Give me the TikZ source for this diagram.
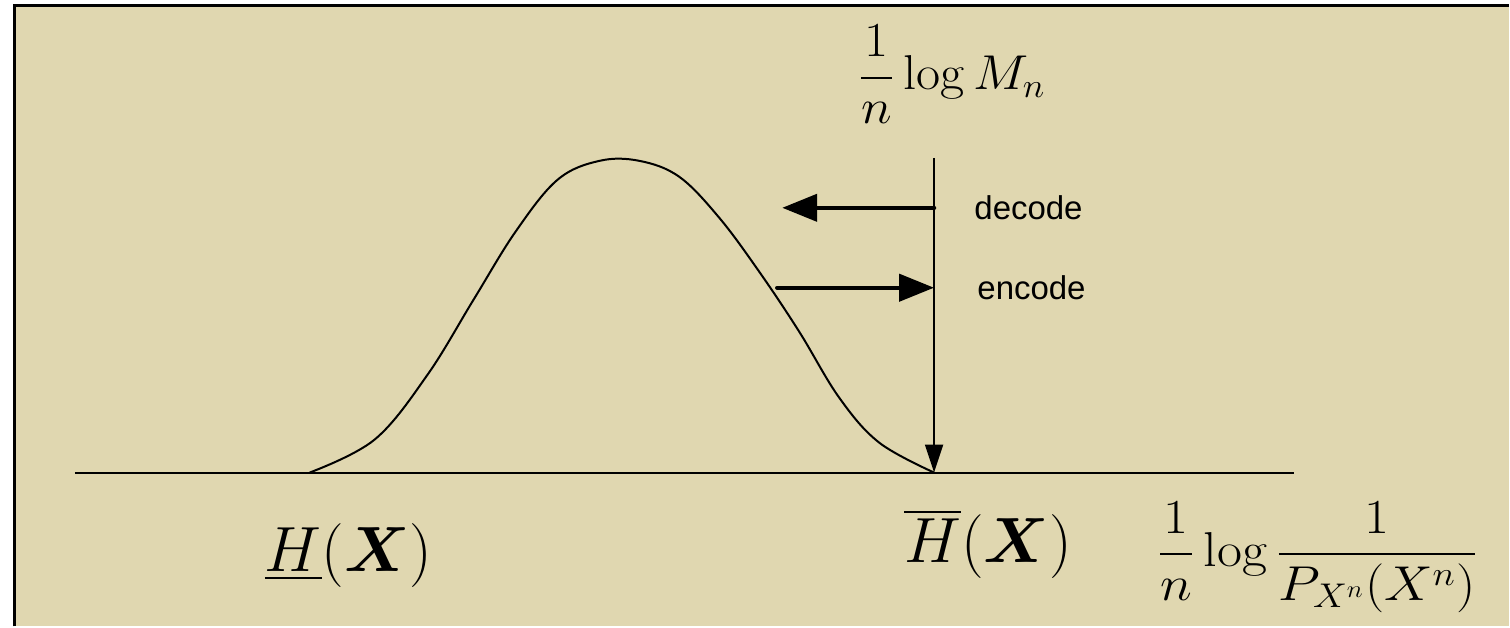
\RequirePackage{fix-cm}
\documentclass[tikz,border=0pt]{standalone}
\usepackage{amsmath}
\usepackage{fontspec}
\setsansfont{Liberation Sans}
\usetikzlibrary{arrows.meta}
\definecolor{slidebg}{HTML}{E0D7B0}
\newcommand{\widen}[2]{\scalebox{#1}[1]{#2}}
\tikzset{
  frame/.style    = {line width=1.5pt, draw=black},
  axisline/.style = {line width=1pt, draw=black},
  density/.style  = {line width=1pt, draw=black},
  rate/.style     = {line width=1pt, -{Triangle[length=14pt, width=9pt]}},
  dir/.style      = {line width=2.2pt, line cap=round, -{Triangle[length=17.5pt, width=13.5pt]}},
  lbl/.style      = {font=\sffamily\fontsize{16.5}{19}\selectfont, anchor=west, inner sep=0pt},
  mlbl/.style     = {font=\fontsize{24.5}{29}\selectfont, anchor=base, inner sep=0pt},
  hlbl/.style     = {font=\fontsize{32}{38}\selectfont, anchor=base, inner sep=0pt},
}

\begin{document}
\begin{tikzpicture}[x=0.5pt, y=-0.5pt]
    % slide background, only top and left edges visible
    \fill[slidebg] (14,5) rectangle (1510,627);
    \draw[frame] (14.5,627) -- (14.5,5.5) -- (1510,5.5);
    \useasboundingbox (0,0) rectangle (1510,627);

    \coordinate (axl)   at (75,473);
    \coordinate (axr)   at (1295,473);
    \coordinate (hup)   at (935,473);
    \coordinate (top)   at (935,158);
    \coordinate (dtail) at (935,208);
    \coordinate (dhead) at (783,208);
    \coordinate (etail) at (778,288);
    \coordinate (ehead) at (935,288);

    \draw[axisline] (axl) -- (axr);
    \draw[density] plot[smooth, tension=0.6] coordinates {
        (310,473) (375,440) (428,375) (474,300) (516,232) (558,180) (600,161)
        (640,161) (680,177) (720,218) (760,272) (800,332) (840,398) (880,443) (935,473)};
    \draw[rate] (top) -- (hup);
    \draw[dir] (dtail) -- (dhead);
    \draw[dir] (etail) -- (ehead);

    \node[lbl]  (dec)  at (975,208) {decode};
    \node[lbl]  (enc)  at (978,288) {encode};
    \node[mlbl] (rate) at (953,90)  {\widen{1.07}{$\displaystyle\frac{1}{n}\log M_n$}};
    \node[hlbl] (hlo)  at (349,572) {$\underline{H}(\boldsymbol{X})$};
    \node[hlbl] (hhi)  at (989,563) {$\overline{H}(\boldsymbol{X})$};
    \node[mlbl] (info) at (1319,567) {\widen{1.11}{$\displaystyle\frac{1}{n}\log\frac{1}{P_{X^n}(X^n)}$}};
\end{tikzpicture}
\end{document}
